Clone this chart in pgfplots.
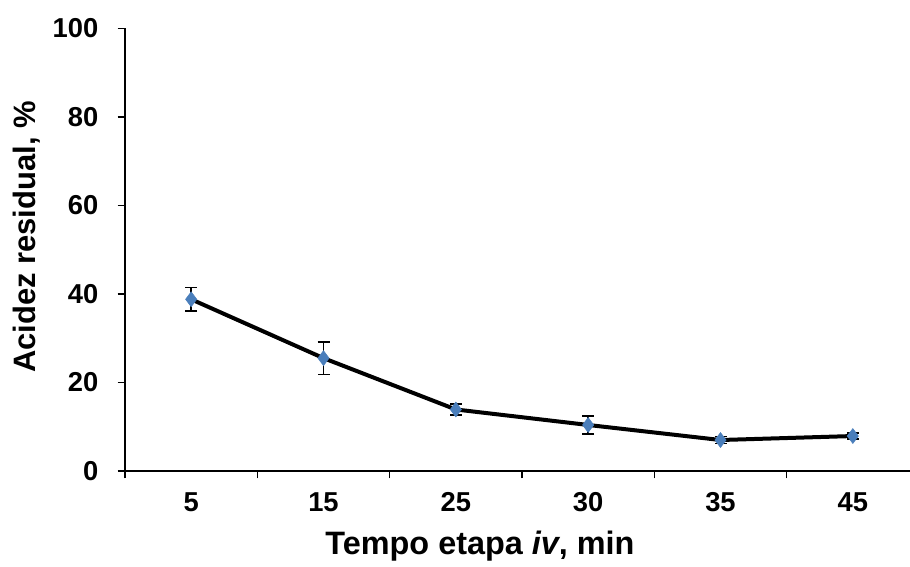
\documentclass[border=0pt]{standalone}
\usepackage{fontspec}
\setmainfont{Liberation Sans}
\usepackage{pgfplots}
\pgfplotsset{compat=1.18}
\definecolor{mk}{HTML}{4A7EBB}
\begin{document}
\begin{tikzpicture}[x=0.75pt,y=0.75pt]
\useasboundingbox (0,0) rectangle (910,567);
\begin{axis}[
  at={(93.75pt,72pt)}, anchor=south west,
  scale only axis, width=588.75pt, height=331.9pt,
  xmin=-0.5, xmax=5.432, ymin=0, ymax=100,
  axis x line=bottom, axis y line=left,
  axis line style={-, line width=1.1pt, black},
  every tick/.style={black, line width=1.1pt},
  tick align=outside,
  major tick length=5.5pt, minor tick length=5.5pt,
  xtick={0,1,2,3,4,5},
  xticklabels={5,15,25,30,35,45},
  major x tick style={draw=none},
  minor xtick={-0.5,0.5,1.5,2.5,3.5,4.5},
  ytick={0,20,40,60,80,100},
  /pgf/number format/assume math mode=true,
  ticklabel style={font=\bfseries\fontsize{20.5}{20.5}\selectfont},
  xticklabel style={yshift=-7pt},
  yticklabel style={xshift=-11pt},
  clip=false,
]
\addplot[black, line width=3pt,
  mark=diamond*, mark size=5.6pt,
  mark options={fill=mk, draw=mk, line width=0.4pt},
  error bars/.cd, y dir=both, y explicit,
  error bar style={line width=1.2pt, black},
  error mark options={rotate=90, mark size=4.5pt, line width=1.2pt, black}]
coordinates {
  (0,38.8) +- (0,2.7)
  (1,25.5) +- (0,3.7)
  (2,13.9) +- (0,1.2)
  (3,10.4) +- (0,2.0)
  (4,7.0)  +- (0,0.8)
  (5,7.9)  +- (0,0.7)
};
\end{axis}
\node[rotate=90, font=\bfseries\fontsize{23.2}{23.2}\selectfont] at (27,330) {Acidez residual, \%};
\node[font=\bfseries\fontsize{24.3}{24.3}\selectfont] at (480,21) {Tempo etapa \textit{iv}, min};
\end{tikzpicture}
\end{document}
